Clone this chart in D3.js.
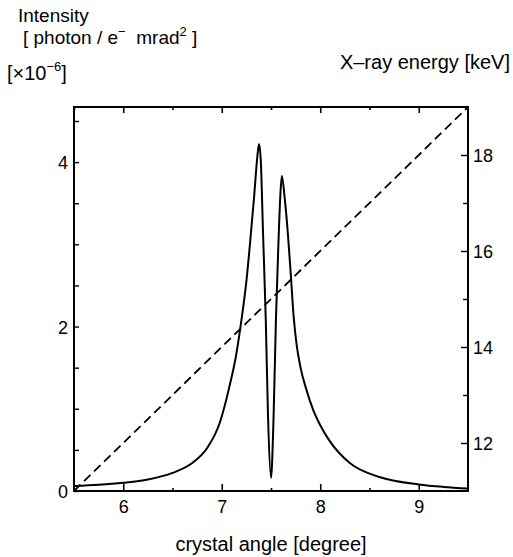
<!DOCTYPE html>
<html>
<head>
<meta charset="utf-8">
<script src="https://cdn.jsdelivr.net/npm/d3@7"></script>
<style>
body { margin: 0; background: #fff; }
text { font-family: "Liberation Sans", Arial, sans-serif; fill: #000; }
</style>
</head>
<body>
<div id="chart"></div>
<script>
(function(){

var width = 513,
	height = 557,
	margin = {top: 107, right: 45, bottom: 66, left: 74};

// intensity curve (angle in degree, intensity x1e-6)
var angle = [5.5, 5.75, 6.0, 6.25, 6.5, 6.7, 6.85, 6.98, 7.07, 7.15, 7.2, 7.25, 7.29, 7.33, 7.36, 7.378,
	7.395, 7.42, 7.447, 7.47, 7.5, 7.525, 7.55, 7.575, 7.595, 7.61, 7.64, 7.67, 7.7, 7.73, 7.76,
	7.8, 7.86, 7.93, 8.0, 8.1, 8.3, 8.6, 9.0, 9.25, 9.5];
var intensity = [0.06, 0.075, 0.1, 0.14, 0.22, 0.34, 0.52, 0.83, 1.23, 1.68, 2.08, 2.55, 3.05, 3.6, 4.05, 4.22,
	4.05, 3.1, 2.08, 0.9, 0.16, 0.85, 2.08, 3.0, 3.6, 3.83, 3.55, 3.15, 2.65, 2.12, 1.78,
	1.5, 1.23, 0.98, 0.8, 0.6, 0.34, 0.17, 0.08, 0.05, 0.03];

// x-ray energy (dashed line)
var energyAngle = [5.5, 7.5, 9.5];
var energy = [11, 15, 19];

var xTicks = [5.5, 6, 6.5, 7, 7.5, 8, 8.5, 9],
	xLabels = [6, 7, 8, 9],
	yTicks = [0, 0.5, 1, 1.5, 2, 2.5, 3, 3.5, 4, 4.5],
	yLabels = [0, 2, 4],
	eTicks = [12, 13, 14, 15, 16, 17, 18],
	eLabels = [12, 14, 16, 18];

var svg = d3.select("#chart").append("svg")
	.attr("width", width)
	.attr("height", height);

var w = width - margin.left - margin.right,
	h = height - margin.top - margin.bottom;

var X = d3.scaleLinear().domain([5.5, 9.5]).range([margin.left, margin.left + w]);
var Y = d3.scaleLinear().domain([0, 4.67]).range([margin.top + h, margin.top]);
var E = d3.scaleLinear().domain([11, 19]).range([margin.top + h, margin.top]);

var isLabel = function(list){ return function(d){ return list.indexOf(d) >= 0; }; };

// bottom axis, ticks inward
var gx = svg.append("g").attr("transform", "translate(0," + (margin.top + h) + ")")
	.call(d3.axisBottom(X).tickValues(xTicks).tickSize(0).tickFormat(""));
gx.selectAll(".tick line").attr("y2", function(d){ return isLabel(xLabels)(d) ? -7 : -3; })
	.attr("stroke-width", 1.6);
gx.selectAll(".tick").filter(isLabel(xLabels)).append("text")
	.attr("y", 22).attr("text-anchor", "middle").attr("font-size", 18).text(function(d){ return d; });

// top axis, mirrored
var gt = svg.append("g").attr("transform", "translate(0," + margin.top + ")")
	.call(d3.axisTop(X).tickValues(xTicks).tickSize(0).tickFormat(""));
gt.selectAll(".tick line").attr("y2", function(d){ return isLabel(xLabels)(d) ? 6 : 3; })
	.attr("stroke-width", 1.6);

// left axis
var gy = svg.append("g").attr("transform", "translate(" + margin.left + ",0)")
	.call(d3.axisLeft(Y).tickValues(yTicks).tickSize(-5).tickFormat(""));
gy.selectAll(".tick line").attr("stroke-width", 1.4);
gy.selectAll(".tick").filter(isLabel(yLabels)).append("text")
	.attr("x", -6).attr("dy", "0.36em").attr("text-anchor", "end").attr("font-size", 18)
	.text(function(d){ return d; });

// right axis (energy)
var ge = svg.append("g").attr("transform", "translate(" + (margin.left + w) + ",0)")
	.call(d3.axisRight(E).tickValues(eTicks).tickSize(0).tickFormat(""));
ge.selectAll(".tick line").attr("x2", function(d){ return isLabel(eLabels)(d) ? -7 : -5; })
	.attr("stroke-width", 1.4);
ge.selectAll(".tick").filter(isLabel(eLabels)).append("text")
	.attr("x", 5).attr("dy", "0.36em").attr("text-anchor", "start").attr("font-size", 18)
	.text(function(d){ return d; });

svg.selectAll(".domain").remove();

// frame
svg.append("rect")
	.attr("x", margin.left).attr("y", margin.top)
	.attr("width", w).attr("height", h)
	.attr("fill", "none").attr("stroke", "#000").attr("stroke-width", 2);

// curves
var pts = angle.map(function(a, i){ return [a, intensity[i]]; });
var line = d3.line().x(function(d){ return X(d[0]); }).y(function(d){ return Y(d[1]); })
	.curve(d3.curveMonotoneX);
svg.append("path").datum(pts)
	.attr("d", line)
	.attr("fill", "none").attr("stroke", "#000").attr("stroke-width", 2);

var epts = energyAngle.map(function(a, i){ return [a, energy[i]]; });
var eline = d3.line().x(function(d){ return X(d[0]); }).y(function(d){ return E(d[1]); });
svg.append("path").datum(epts)
	.attr("d", eline)
	.attr("fill", "none").attr("stroke", "#000").attr("stroke-width", 1.8)
	.attr("stroke-dasharray", "9,5");

// titles
svg.append("text").attr("x", 18).attr("y", 22).attr("font-size", 19).text("Intensity");

var t2 = svg.append("text").attr("x", 23).attr("y", 44).attr("font-size", 19);
t2.append("tspan").text("[ photon / e");
t2.append("tspan").attr("font-size", 13).attr("dy", -8).text("\u2212");
t2.append("tspan").attr("dy", 8).text("\u00a0\u00a0mrad");
t2.append("tspan").attr("font-size", 13).attr("dy", -8).text("2");
t2.append("tspan").attr("dy", 8).text(" ]");

var t3 = svg.append("text").attr("x", 7).attr("y", 80).attr("font-size", 20);
t3.append("tspan").text("[\u00d710");
t3.append("tspan").attr("font-size", 13).attr("dy", -9).text("\u22126");
t3.append("tspan").attr("dy", 9).text("]");

svg.append("text").attr("x", 510).attr("y", 69).attr("text-anchor", "end").attr("font-size", 20)
	.text("X\u2013ray energy [keV]");

svg.append("text").attr("x", X(7.5)).attr("y", 551).attr("text-anchor", "middle").attr("font-size", 20)
	.text("crystal angle [degree]");

})()
</script>
</body>
</html>
